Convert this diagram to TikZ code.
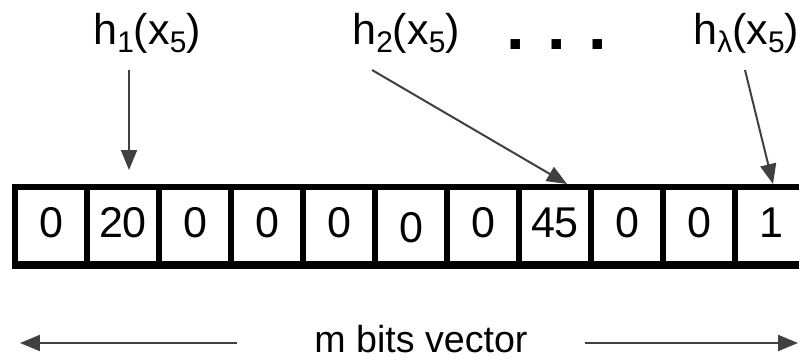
\documentclass[tikz,border=0pt]{standalone}
\usepackage{fontspec}
\setmainfont{Liberation Sans}
\usetikzlibrary{arrows.meta, calc, positioning}
\definecolor{myline}{RGB}{64,64,64}
\tikzset{
  cell/.style={rectangle, draw=black, line width=0.12cm, minimum width=1.44cm, minimum height=1.54cm, inner sep=0pt, font=\fontsize{24.5}{28}\selectfont, text height=0.62cm, text depth=0.14cm},
  lbl/.style={inner sep=0pt, font=\fontsize{24.5}{28}\selectfont},
  ptr/.style={-{Triangle[length=0.4cm, width=0.32cm]}, line width=0.04cm, color=myline}
}
\newcommand{\lowidx}[1]{\raisebox{-0.18em}{\fontsize{17}{17}\selectfont #1}}

\begin{document}
\begin{tikzpicture}[x=0.02cm, y=-0.02cm]
  \useasboundingbox (0,0) rectangle (799,358);

  % Vector cells
  \foreach \val/\dy [count=\i] in {0/0,20/0,0/0,0/0,0/0,0/-0.1,0/0,45/0,0/0,0/0,1/0}
    \node[cell] (c\i) at ({51+72*(\i-1)},225.5) {\raisebox{\dy cm}{\val}};
  \draw[line width=0.05cm] ($(c1.south west)+(0,1)$) -- ($(c11.south east)+(0,1)$);

  % Hash labels
  \node[lbl, anchor=base west] (h1) at (93,45) {h\lowidx{1}(x\lowidx{5})};
  \node[lbl, anchor=base west] (h2) at (352,45) {h\lowidx{2}(x\lowidx{5})};
  \node[lbl, anchor=base west] (hl) at (693,45) {h\lowidx{λ}(x\lowidx{5})};
  \node[inner sep=0pt, anchor=base, font=\fontsize{38}{40}\selectfont\bfseries] (dots) at (557,50) {.\,\,.\,\,.};

  % Pointers into the vector
  \draw[ptr] ($(h1.base west)+(36,25)$) -- ($(c2.north)+(6,-14)$);
  \draw[ptr] ($(h2.base west)+(20,25)$) -- ($(c8.north)+(12,0)$);
  \draw[ptr] ($(hl.base west)+(52,25)$) -- ($(c11.north)+(2,0)$);

  % Length of the vector
  \node[inner sep=0pt, anchor=base, font=\fontsize{21.4}{24}\selectfont] (mbits) at (421,353) {m bits vector};
  \coordinate (vl) at (20,343);
  \coordinate (vr) at (798,343);
  \draw[ptr] ($(mbits.west |- vl)+(-77,0)$) -- (vl);
  \draw[ptr] ($(mbits.east |- vr)+(57,0)$) -- (vr);
\end{tikzpicture}
\end{document}
